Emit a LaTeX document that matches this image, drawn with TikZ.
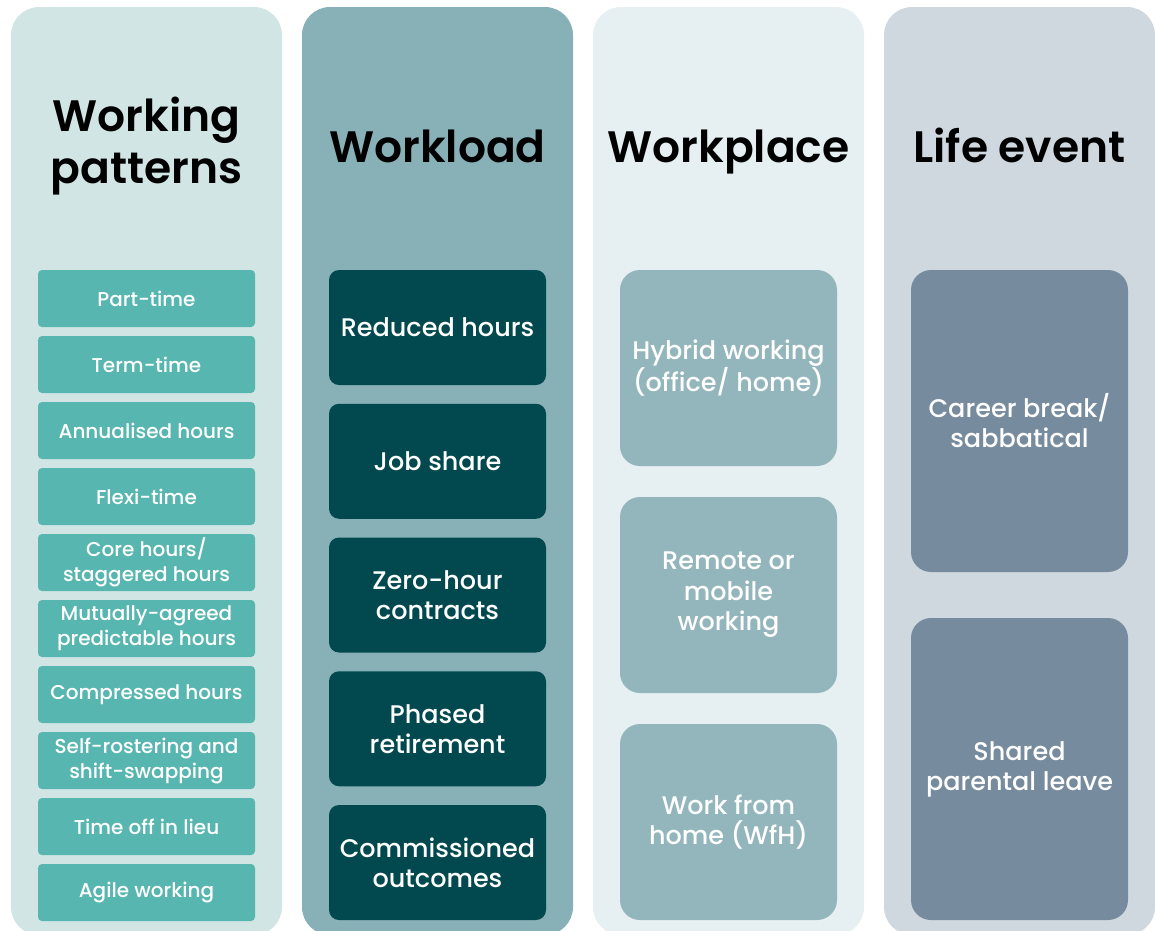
\documentclass[tikz,border=0pt]{standalone}
\usepackage{fontspec}
\setmainfont{Poppins}[UprightFont=* Medium, BoldFont=* SemiBold]
\usetikzlibrary{positioning, backgrounds}

\definecolor{fondmotifs}{HTML}{D1E5E4}
\definecolor{fondcharge}{HTML}{87B1B7}
\definecolor{fondlieu}{HTML}{E6EFF1}
\definecolor{fondvie}{HTML}{D0D8DF}
\definecolor{boitemotifs}{HTML}{58B6B0}
\definecolor{boitecharge}{HTML}{02494F}
\definecolor{boitelieu}{HTML}{93B6BC}
\definecolor{boitevie}{HTML}{768B9E}

\begin{document}
\begin{tikzpicture}[x=1pt,y=1pt]
        \tikzset{
          node distance=66pt and 0pt,on grid,
          colonne/.style={
            rounded corners=28pt,minimum width=271pt,minimum height=928pt,
          },
          titre/.style={
            align=center,text=black,
            font=\fontsize{44}{52}\selectfont\bfseries,
          },
          boite/.style={
            align=center,text=white,inner sep=1pt,minimum width=217pt,
          },
          boite motifs/.style={boite,fill=boitemotifs,rounded corners=4pt,
            minimum height=57pt,font=\fontsize{20}{25}\selectfont},
          boite charge/.style={boite,fill=boitecharge,rounded corners=10pt,
            minimum height=115pt,font=\fontsize{25.5}{30}\selectfont},
          boite lieu/.style={boite,fill=boitelieu,rounded corners=20pt,
            minimum height=196pt,font=\fontsize{25.5}{30.5}\selectfont},
          boite vie/.style={boite,fill=boitevie,rounded corners=20pt,
            minimum height=302pt,font=\fontsize{25.5}{30}\selectfont},
          }
        \clip (0,0) rectangle (1155,-930);

        % colonnes
        \node[colonne, fill=fondmotifs] (c1) at (146.5,-471) {};
        \node[colonne, fill=fondcharge] (c2) at (437.5,-471) {};
        \node[colonne, fill=fondlieu] (c3) at (728.5,-471) {};
        \node[colonne, fill=fondvie] (c4) at (1019.5,-471) {};

        \node[titre] (t1) at (146.5,-146) {Working\\patterns};
        \node[titre, anchor=base] (t2) at (437.5,-162) {Workload};
        \node[titre, anchor=base] (t3) at (728.5,-162) {Workplace};
        \node[titre, anchor=base] (t4) at (1019.5,-162) {Life event};

        % working patterns
        \node[boite motifs] (a1) at (146.5,-298.5) {Part-time};
        \node[boite motifs, below=of a1] (a2) {Term-time};
        \node[boite motifs, below=of a2] (a3) {Annualised hours};
        \node[boite motifs, below=of a3] (a4) {Flexi-time};
        \node[boite motifs, below=of a4] (a5) {Core hours/\\staggered hours};
        \node[boite motifs, below=of a5] (a6) {Mutually-agreed\\predictable hours};
        \node[boite motifs, below=of a6] (a7) {Compressed hours};
        \node[boite motifs, below=of a7] (a8) {Self-rostering and\\shift-swapping};
        \node[boite motifs, below=of a8] (a9) {Time off in lieu};
        \node[boite motifs, below=of a9] (a10) {Agile working};

        % workload
        \node[boite charge] (b1) at (437.5,-327.5) {Reduced hours};
        \node[boite charge, below=133.75pt of b1] (b2) {Job share};
        \node[boite charge, below=133.75pt of b2] (b3) {Zero-hour\\contracts};
        \node[boite charge, below=133.75pt of b3] (b4) {Phased\\retirement};
        \node[boite charge, below=133.75pt of b4] (b5) {Commissioned\\outcomes};

        % workplace
        \node[boite lieu] (d1) at (728.5,-368) {Hybrid working\\(office/ home)};
        \node[boite lieu, below=227pt of d1] (d2) {Remote or\\mobile\\working};
        \node[boite lieu, below=227pt of d2] (d3) {Work from\\home (WfH)};

        % life event
        \node[boite vie] (e1) at (1019.5,-421) {Career break/\\sabbatical};
        \node[boite vie, below=348pt of e1] (e2) {Shared\\parental leave};
      \end{tikzpicture}
\end{document}
